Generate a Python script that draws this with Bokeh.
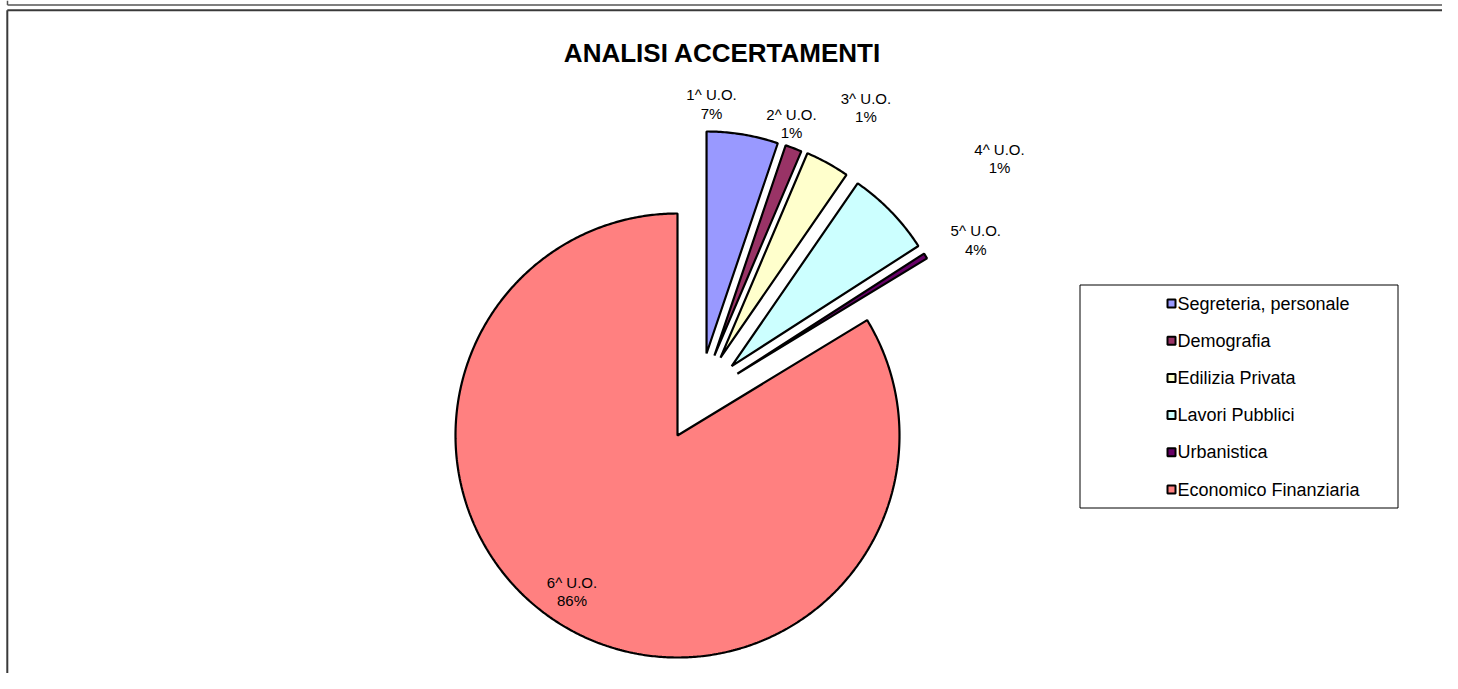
import numpy as np
from bokeh.plotting import figure
from bokeh.models import Range1d
from bokeh.embed import file_html
from bokeh.resources import INLINE
from bokeh.core.properties import value

# ---------------- data ----------------
title = "ANALISI ACCERTAMENTI"
categories = ["Segreteria, personale", "Demografia", "Edilizia Privata",
              "Lavori Pubblici", "Urbanistica", "Economico Finanziaria"]
unit_labels = ["1^ U.O.", "2^ U.O.", "3^ U.O.", "4^ U.O.", "5^ U.O.", "6^ U.O."]
shares = [5.2, 1.2, 3.2, 6.3, 0.4, 83.7]          # slice sizes as drawn
pct_labels = ["7%", "1%", "1%", "1%", "4%", "86%"]  # data-label texts as printed

# ---------------- styles / layout ----------------
colors = ["#9999FF", "#993366", "#FFFFCC", "#CCFFFF", "#660066", "#FF8080"]
explode_dist = [87, 88, 89, 88, 86, 0]
explode_dir = [19.5, 24.8, 28.9, 38.0, 44.1, 0.0]
label_dir = [5.86, 20.07, 29.88, 49.3, 56.8, 214.07]
label_rad = [333.2, 332.2, 378.3, 424.7, 356.5, 188.3]
FONT = value("Liberation Sans")

W, H = 1442, 673
p = figure(width=W, height=H, x_range=Range1d(0, W), y_range=Range1d(H, 0),
           output_backend="svg", toolbar_location=None,
           x_axis_location=None, y_axis_location=None, min_border=0,
           outline_line_color=None, background_fill_color="white",
           border_fill_color="white")
p.grid.visible = False

# previous box bottom edge and chart-area frame
p.segment(x0=[7, 7], y0=[0, 4.5], x1=[7, W], y1=[4.5, 4.5],
          line_color="#555555", line_width=1.5)
p.segment(x0=[6.8, 6.8], y0=[H, 9.8], x1=[6.8, W], y1=[9.8, 9.8],
          line_color="#3a3a3a", line_width=2)

# ---------------- pie ----------------
cx, cy, R = 677.0, 435.0, 222.0
tot = float(sum(shares))
cum = np.concatenate([[0.0], np.cumsum(shares)]) / tot * 360.0
xs, ys = [], []
for i in range(len(shares)):
    a0, a1 = cum[i], cum[i + 1]
    d = np.radians(explode_dir[i])
    ax = cx + explode_dist[i] * np.sin(d)
    ay = cy - explode_dist[i] * np.cos(d)
    n = max(4, int((a1 - a0) * 2))
    th = np.radians(np.linspace(a0, a1, n))
    xs.append([ax] + list(ax + R * np.sin(th)))
    ys.append([ay] + list(ay - R * np.cos(th)))
p.patches(xs, ys, fill_color=colors, line_color="black", line_width=2.2)

# data labels
lx = [cx + r * np.sin(np.radians(a)) for a, r in zip(label_dir, label_rad)]
ly = [cy - r * np.cos(np.radians(a)) for a, r in zip(label_dir, label_rad)]
p.text(x=lx, y=ly, text=[u + "\n" + pc for u, pc in zip(unit_labels, pct_labels)],
       text_font=FONT, text_font_size="15px", text_align="center",
       text_baseline="middle", text_color="black", text_line_height=1.1)

# title
p.text(x=[722], y=[52], text=[title], text_font=FONT, text_font_size="26px",
       text_font_style="bold", text_align="center", text_baseline="middle",
       text_color="black")

# ---------------- legend ----------------
lg_left, lg_right, lg_top, lg_bottom = 1079.5, 1397.5, 284.5, 507.5
p.quad(left=[lg_left], right=[lg_right], top=[lg_top], bottom=[lg_bottom],
       fill_color="white", line_color="black", line_width=1)
leg_y = [303 + 37.2 * i for i in range(len(categories))]
p.rect(x=[1171] * len(categories), y=leg_y, width=8, height=8,
       fill_color=colors, line_color="black", line_width=2)
p.text(x=[1177] * len(categories), y=leg_y, text=categories, text_font=FONT,
       text_font_size="18px", text_align="left", text_baseline="middle",
       text_color="black")

open("out.html", "w").write(file_html(p, INLINE))
